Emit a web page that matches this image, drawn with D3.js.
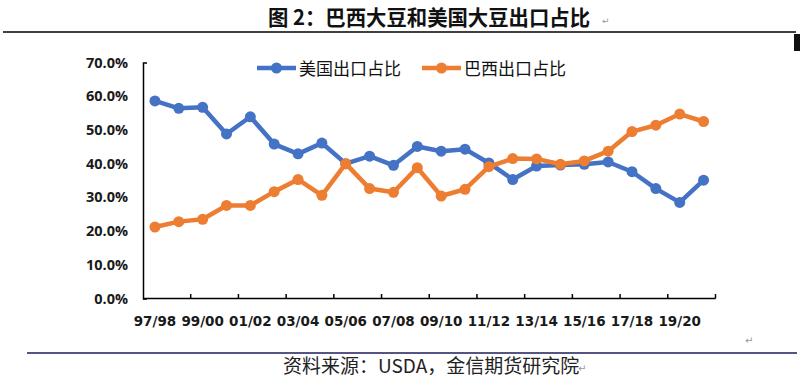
<!DOCTYPE html>
<html>
<head>
<meta charset="utf-8">
<script src="https://cdn.jsdelivr.net/npm/d3@7"></script>
<style>
  body { margin: 0; background: #fff; }
  svg { display: block; }
</style>
</head>
<body>
<svg id="svg"></svg>
<script>
// marketing years 97/98 .. 20/21
var years = ["97/98","98/99","99/00","00/01","01/02","02/03","03/04","04/05","05/06","06/07",
             "07/08","08/09","09/10","10/11","11/12","12/13","13/14","14/15","15/16","16/17",
             "17/18","18/19","19/20","20/21"];
var usShare = [58.6,56.4,56.7,48.8,53.9,45.8,42.9,46.1,40.0,42.2,
               39.5,45.1,43.7,44.3,40.2,35.3,39.3,39.6,39.8,40.5,
               37.6,32.6,28.5,35.1];
var brShare = [21.2,22.8,23.5,27.6,27.6,31.7,35.3,30.6,40.0,32.6,
               31.5,38.8,30.4,32.4,39.1,41.5,41.4,39.8,40.8,43.7,
               49.5,51.4,54.7,52.5];
var yTicks = [0,10,20,30,40,50,60,70];
var seriesNames = ["美国出口占比","巴西出口占比"];
var colors = ["#4472C4","#ED7D31"];

var w = 800, h = 380;
var svg = d3.select("#svg").attr("width", w).attr("height", h);

// title
svg.append("text")
    .attr("x", 268).attr("y", 25)
    .attr("font-family", "Noto Sans CJK SC")
    .attr("font-weight", "bold")
    .attr("font-size", 21)
    .attr("textLength", 322)
    .attr("lengthAdjust", "spacingAndGlyphs")
    .attr("fill", "#111")
    .text("图 2：巴西大豆和美国大豆出口占比");
svg.append("text")
    .attr("x", 602).attr("y", 24)
    .attr("font-family", "DejaVu Sans")
    .attr("font-size", 9)
    .attr("fill", "#999")
    .text("↵");
svg.append("line")
    .attr("x1", 3).attr("x2", 796).attr("y1", 32).attr("y2", 32)
    .attr("stroke", "#000").attr("stroke-width", 1.5);
svg.append("rect")
    .attr("x", 794).attr("y", 34).attr("width", 6).attr("height", 17)
    .attr("fill", "#111");

// scales
var x = d3.scaleBand().domain(years).range([143, 715.5]).padding(0);
var y = d3.scaleLinear().domain([0, 70]).range([298.5, 62.5]);
var cx = function(d, i) { return x(years[i]) + x.bandwidth() / 2; };

// y axis
var yAxis = d3.axisLeft(y)
    .tickValues(yTicks)
    .tickSizeInner(0)
    .tickSizeOuter(-4)
    .tickPadding(15)
    .tickFormat(function(d) { return d.toFixed(1) + "%"; });
var gy = svg.append("g")
    .attr("transform", "translate(143,0)")
    .call(yAxis);
gy.select(".domain").attr("stroke", "#000").attr("stroke-width", 1.5);
gy.selectAll("text")
    .attr("font-family", "Open Sans")
    .attr("font-weight", "bold")
    .attr("font-size", 14.5)
    .attr("fill", "#1a1a1a");

// x axis: labels every other year, ticks between categories
var labelYears = years.filter(function(d, i) { return i % 2 == 0; });
var xAxis = d3.axisBottom(x)
    .tickValues(labelYears)
    .tickSize(0)
    .tickPadding(18);
var gx = svg.append("g")
    .attr("transform", "translate(0,298.5)")
    .call(xAxis);
gx.select(".domain").remove();
gx.selectAll("text")
    .attr("font-family", "DejaVu Sans")
    .attr("font-weight", "bold")
    .attr("font-size", 13.5)
    .attr("fill", "#1a1a1a");

svg.append("line")
    .attr("x1", x.range()[0]).attr("x2", x.range()[1])
    .attr("y1", 298.5).attr("y2", 298.5)
    .attr("stroke", "#000").attr("stroke-width", 1.5);
var tickPos = labelYears.map(function(d) { return x(d); }).slice(1).concat([x.range()[1]]);
svg.append("g").selectAll("line")
    .data(tickPos)
    .enter().append("line")
    .attr("x1", function(d) { return d; })
    .attr("x2", function(d) { return d; })
    .attr("y1", 298.5).attr("y2", 294)
    .attr("stroke", "#000").attr("stroke-width", 1.5);

// series
var series = [usShare, brShare];
var line = d3.line()
    .x(cx)
    .y(function(d) { return y(d); });

series.forEach(function(s, k) {
    var g = svg.append("g");
    g.append("path")
        .datum(s)
        .attr("d", line)
        .attr("fill", "none")
        .attr("stroke", colors[k])
        .attr("stroke-width", 4.5)
        .attr("stroke-linejoin", "round");
    g.selectAll("circle")
        .data(s)
        .enter().append("circle")
        .attr("cx", cx)
        .attr("cy", function(d) { return y(d); })
        .attr("r", 5.5)
        .attr("fill", colors[k]);
});

// legend
var legendX = [257, 422];
var legend = svg.append("g").selectAll("g")
    .data(seriesNames)
    .enter().append("g")
    .attr("transform", function(d, i) { return "translate(" + legendX[i] + ",68)"; });
legend.append("line")
    .attr("x1", 0).attr("x2", 39)
    .attr("stroke", function(d, i) { return colors[i]; })
    .attr("stroke-width", 4.5);
legend.append("circle")
    .attr("cx", 19.5).attr("r", 5.5)
    .attr("fill", function(d, i) { return colors[i]; });
legend.append("text")
    .attr("x", 42).attr("y", 7)
    .attr("font-family", "Noto Sans CJK SC")
    .attr("font-size", 17)
    .attr("fill", "#111")
    .text(function(d) { return d; });

// footer
svg.append("text")
    .attr("x", 745).attr("y", 344)
    .attr("font-family", "DejaVu Sans")
    .attr("font-size", 10)
    .attr("fill", "#999")
    .text("↵");
svg.append("line")
    .attr("x1", 27).attr("x2", 797).attr("y1", 353).attr("y2", 353)
    .attr("stroke", "#1c1c5c").attr("stroke-width", 1.5);
svg.append("text")
    .attr("x", 283).attr("y", 373)
    .attr("font-family", "Noto Sans CJK SC")
    .attr("font-size", 19)
    .attr("fill", "#222")
    .text("资料来源：USDA，金信期货研究院");
svg.append("text")
    .attr("x", 578).attr("y", 372)
    .attr("font-family", "DejaVu Sans")
    .attr("font-size", 10)
    .attr("fill", "#999")
    .text("↵");
</script>
</body>
</html>
